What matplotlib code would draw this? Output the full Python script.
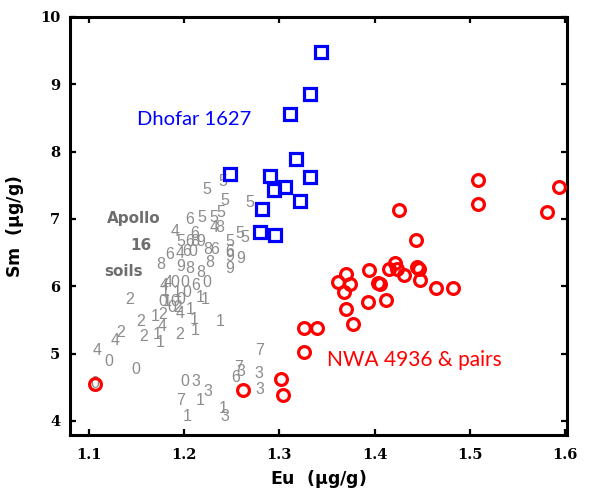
import matplotlib
matplotlib.use('Agg')
import matplotlib.pyplot as plt

plt.rcParams.update({
    'font.family': 'DejaVu Serif',
    'mathtext.fontset': 'dejavusans',
    'xtick.direction': 'in',
    'ytick.direction': 'in',
})

# Dhofar 1627 (blue squares)
dhofar_eu = [1.344, 1.332, 1.311, 1.317, 1.248, 1.290, 1.332, 1.294, 1.306,
             1.322, 1.282, 1.280, 1.295]
dhofar_sm = [9.48, 8.85, 8.56, 7.89, 7.67, 7.64, 7.63, 7.43, 7.47,
             7.27, 7.15, 6.81, 6.76]

# NWA 4936 & pairs (red circles)
nwa_eu = [1.509, 1.594, 1.509, 1.581, 1.426, 1.443, 1.394, 1.370, 1.361, 1.374,
          1.368, 1.404, 1.406, 1.421, 1.415, 1.423, 1.431, 1.444, 1.447, 1.448,
          1.464, 1.482, 1.393, 1.412, 1.370, 1.377, 1.326, 1.339, 1.326, 1.302,
          1.304, 1.262, 1.106]
nwa_sm = [7.58, 7.48, 7.22, 7.11, 7.13, 6.68, 6.24, 6.18, 6.06, 6.03,
          5.92, 6.05, 6.03, 6.35, 6.25, 6.26, 6.17, 6.28, 6.26, 6.10,
          5.98, 5.98, 5.76, 5.79, 5.66, 5.44, 5.38, 5.38, 5.03, 4.62,
          4.39, 4.46, 4.55]

# Apollo 16 soils (grey digit labels)
soil_lbl = ['5', '5', '5', '5', '6', '5', '5', '5', '4', '8',
            '4', '6', '5', '5', '5', '6', '8', '9', '5', '6',
            '4', '6', '0', '8', '6', '6', '9', '8', '9', '8',
            '8', '8', '9', '9', '4', '4', '0', '0', '6', '0',
            '1', '1', '0', '1', '1', '2', '0', '1', '0', '0',
            '0', '2', '4', '1', '2', '1', '2', '1', '1', '4',
            '1', '2', '4', '2', '2', '1', '1', '4', '0', '0',
            '0', '7', '7', '3', '6', '3', '0', '3', '3', '3',
            '7', '1', '1', '3', '1']
soil_eu = [1.241, 1.224, 1.243, 1.269, 1.206, 1.218, 1.231, 1.238, 1.231, 1.237,
           1.190, 1.211, 1.258, 1.264, 1.196, 1.206, 1.211, 1.217, 1.248, 1.185,
           1.196, 1.203, 1.209, 1.225, 1.232, 1.248, 1.248, 1.175, 1.196, 1.206,
           1.217, 1.227, 1.259, 1.248, 1.179, 1.183, 1.190, 1.201, 1.212, 1.224,
           1.180, 1.193, 1.203, 1.217, 1.222, 1.143, 1.177, 1.182, 1.190, 1.196,
           1.187, 1.193, 1.196, 1.206, 1.154, 1.169, 1.177, 1.210, 1.238, 1.177,
           1.172, 1.133, 1.127, 1.157, 1.195, 1.211, 1.175, 1.108, 1.121, 1.149,
           1.106, 1.279, 1.257, 1.260, 1.254, 1.278, 1.201, 1.212, 1.279, 1.225,
           1.196, 1.217, 1.241, 1.243, 1.203]
soil_sm = [7.55, 7.43, 7.28, 7.25, 6.99, 7.02, 7.02, 7.09, 6.88, 6.88,
           6.81, 6.79, 6.78, 6.73, 6.66, 6.66, 6.66, 6.66, 6.66, 6.47,
           6.48, 6.51, 6.51, 6.54, 6.54, 6.51, 6.44, 6.33, 6.29, 6.27,
           6.21, 6.36, 6.41, 6.27, 6.01, 6.05, 6.05, 6.05, 6.01, 6.05,
           5.92, 5.90, 5.90, 5.84, 5.80, 5.81, 5.78, 5.77, 5.77, 5.80,
           5.68, 5.68, 5.60, 5.65, 5.47, 5.55, 5.58, 5.50, 5.47, 5.40,
           5.28, 5.31, 5.20, 5.25, 5.29, 5.35, 5.17, 5.05, 4.88, 4.76,
           4.56, 5.04, 4.79, 4.74, 4.65, 4.71, 4.59, 4.59, 4.46, 4.43,
           4.31, 4.31, 4.19, 4.06, 4.06]

xticks = [1.1, 1.2, 1.3, 1.4, 1.5, 1.6]
yticks = [4, 5, 6, 7, 8, 9, 10]

fig = plt.figure(figsize=(6.07, 4.93), dpi=100)
ax = fig.add_axes([0.1153, 0.1176, 0.8187, 0.848])

# soil sample digits
for lbl, x, y in zip(soil_lbl, soil_eu, soil_sm):
    ax.text(x, y, lbl, ha='center', va='center', fontsize=11.5,
            family='Liberation Sans', color='#8c8c8c', zorder=2)

ax.plot(dhofar_eu, dhofar_sm, 's', ms=9, mew=2.3, mfc='none', mec='#0000ff',
        zorder=3, clip_on=False)
ax.plot(nwa_eu, nwa_sm, 'o', ms=8.5, mew=2.3, mfc='none', mec='#ff0000',
        zorder=3, clip_on=False)

ax.text(1.150, 8.47, 'Dhofar 1627', fontsize=14.5, family='Lato',
        color='#0000ff', va='center', ha='left')
ax.text(1.350, 4.91, 'NWA 4936 & pairs', fontsize=15, family='Lato',
        color='#ff0000', va='center', ha='left')
lab_kw = dict(fontsize=11, family='DejaVu Sans', fontweight='bold',
              color='#6e6e6e', va='center')
ax.text(1.119, 7.00, 'Apollo', ha='left', **lab_kw)
ax.text(1.155, 6.60, '16', ha='center', **lab_kw)
ax.text(1.116, 6.22, 'soils', ha='left', **lab_kw)

ax.set_xlim(1.08, 1.602)
ax.set_ylim(3.79, 10)
ax.set_xticks(xticks)
ax.set_yticks(yticks)
ax.set_xticklabels([str(t) for t in xticks])
ax.set_yticklabels([str(t) for t in yticks])
ax.tick_params(axis='x', top=True, length=4.5, width=1.6, pad=9,
               labelsize=10.5)
ax.tick_params(axis='y', right=True, length=4.5, width=1.6, pad=7,
               labelsize=10.5)
for lab in ax.get_xticklabels() + ax.get_yticklabels():
    lab.set_fontweight('bold')
for sp in ax.spines.values():
    sp.set_linewidth(2.2)

ax.set_xlabel('Eu  ($\\mathbf{\\mu}$g/g)', fontsize=12.5, family='DejaVu Sans',
              fontweight='bold', labelpad=5)
ax.set_ylabel('Sm  ($\\mathbf{\\mu}$g/g)', fontsize=12.5, family='DejaVu Sans',
              fontweight='bold', labelpad=10)

fig.savefig('out.png', dpi=100)
